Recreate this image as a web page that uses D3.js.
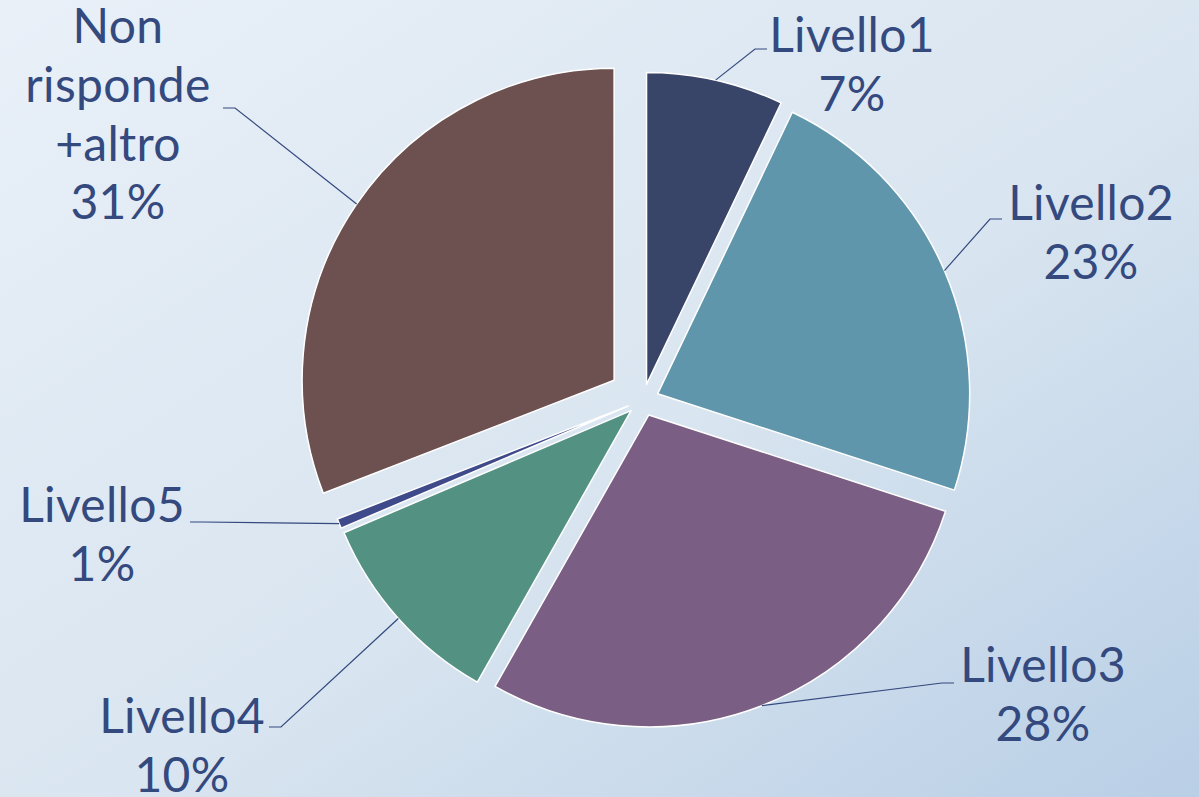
<!DOCTYPE html>
<html>
<head>
<meta charset="utf-8">
<script src="https://cdn.jsdelivr.net/npm/d3@7"></script>
<style>
  html, body { margin: 0; padding: 0; }
  body { width: 1199px; height: 797px; overflow: hidden; }
  .lbl { font-family: "Century Gothic", Lato, "Noto Sans", sans-serif; font-size: 48px; font-weight: 400; letter-spacing: 0.3px; fill: #34497e; }
</style>
</head>
<body>
<svg width="1199" height="797"></svg>
<script>
// slice data (percent)
var categories = ["Livello1", "Livello2", "Livello3", "Livello4", "Livello5", "Non risponde +altro"];
var values = [7.1, 22.9, 28.2, 10.4, 0.5, 30.9];
var colors = ["#384468", "#6096ab", "#7a5e83", "#539282", "#3f4a8a", "#6d5150"];

// label placement (text centre x, first baseline y, leader end)
var labelPos = [
  {x: 852, y: 52, lx: 767, ly: 49, dir: 1},
  {x: 1091, y: 220, lx: 1002, ly: 219, dir: 1},
  {x: 1043, y: 682, lx: 954, ly: 683, dir: 1},
  {x: 182, y: 733, lx: 269, ly: 727, dir: -1},
  {x: 102, y: 522, lx: 190, ly: 522, dir: -1},
  {x: 118, y: 43, lx: 223, ly: 108, dir: -1}
];

var svg = d3.select("svg"),
    width = +svg.attr("width"),
    height = +svg.attr("height"),
    cx = 643, cy = 400,
    radius = 312,
    lineH = 58.8;

// background
var defs = svg.append("defs");
var grad = defs.append("linearGradient")
    .attr("id", "bg")
    .attr("x1", "0%").attr("y1", "0%")
    .attr("x2", "100%").attr("y2", "100%");
grad.append("stop").attr("offset", "0%").attr("stop-color", "#e9f0f8");
grad.append("stop").attr("offset", "55%").attr("stop-color", "#d9e5f0");
grad.append("stop").attr("offset", "100%").attr("stop-color", "#b9cfe6");

svg.append("rect")
    .attr("width", width)
    .attr("height", height)
    .attr("fill", "url(#bg)");

var data = categories.map(function(c, i) { return {name: c, value: values[i], color: colors[i], pos: labelPos[i]}; });

var pie = d3.pie().sort(null).value(function(d) { return d.value; });

var path = d3.arc()
    .outerRadius(radius)
    .innerRadius(0);

// how far each slice is pulled out (the last one more)
function explode(i) { return i === categories.length - 1 ? 35 : 16; }

var g = svg.append("g")
    .attr("transform", "translate(" + cx + "," + cy + ")");

var arcs = pie(data);

arcs.forEach(function(d, i) {
  var mid = (d.startAngle + d.endAngle) / 2;
  d.ox = Math.sin(mid) * explode(i);
  d.oy = -Math.cos(mid) * explode(i);
  d.mid = mid;
});

g.selectAll(".arc")
    .data(arcs)
    .enter().append("path")
    .attr("class", "arc")
    .attr("transform", function(d) { return "translate(" + d.ox + "," + d.oy + ")"; })
    .attr("d", path)
    .attr("fill", function(d) { return d.data.color; })
    .attr("stroke", "#ffffff")
    .attr("stroke-width", 1.5)
    .attr("stroke-linejoin", "round");

// leader lines
svg.selectAll(".leader")
    .data(arcs)
    .enter().append("polyline")
    .attr("class", "leader")
    .attr("fill", "none")
    .attr("stroke", "#34497e")
    .attr("stroke-width", 1.2)
    .attr("points", function(d) {
      var p = d.data.pos;
      var sx = cx + d.ox + Math.sin(d.mid) * radius,
          sy = cy + d.oy - Math.cos(d.mid) * radius;
      return [[sx, sy], [p.lx - 12 * p.dir, p.ly], [p.lx, p.ly]].join(" ");
    });

// labels
var lbl = svg.selectAll(".lbl")
    .data(arcs)
    .enter().append("text")
    .attr("class", "lbl")
    .attr("text-anchor", "middle");

lbl.each(function(d) {
  var lines = d.data.name.split(" ").concat([Math.round(d.data.value) + "%"]);
  var t = d3.select(this);
  lines.forEach(function(s, k) {
    t.append("tspan")
      .attr("x", d.data.pos.x)
      .attr("y", d.data.pos.y + k * lineH)
      .text(s);
  });
});
</script>
</body>
</html>
